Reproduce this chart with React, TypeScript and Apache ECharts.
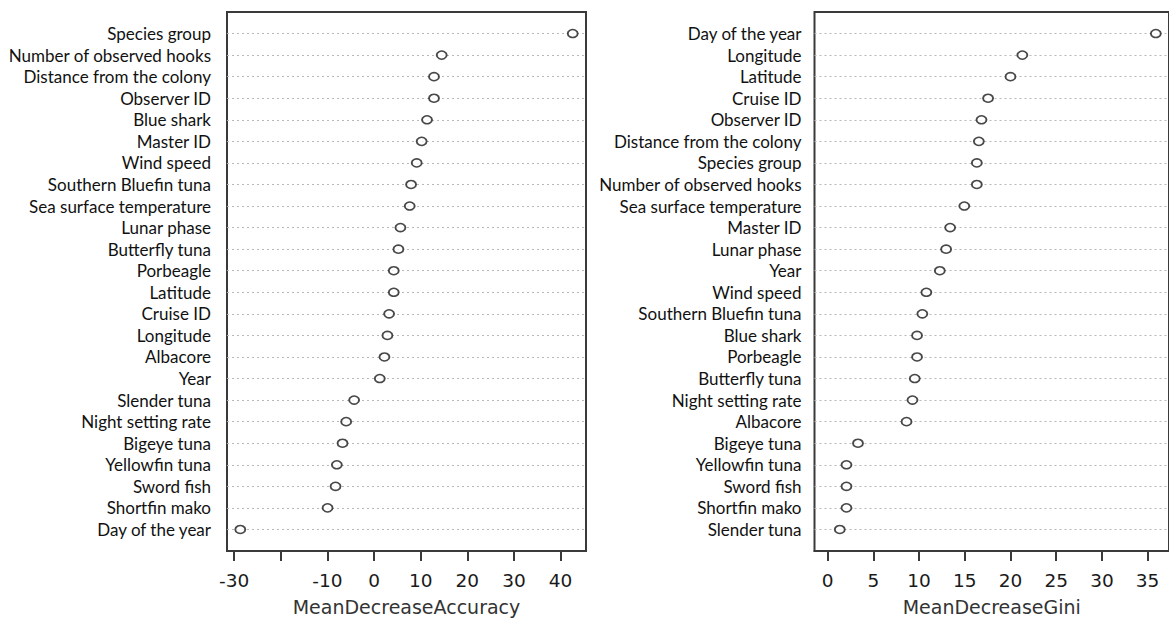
import React, { useEffect, useRef } from "react";
import * as echarts from "echarts";

// Left panel: MeanDecreaseAccuracy (top to bottom)
const accuracyCategories = [
  "Species group",
  "Number of observed hooks",
  "Distance from the colony",
  "Observer ID",
  "Blue shark",
  "Master ID",
  "Wind speed",
  "Southern Bluefin tuna",
  "Sea surface temperature",
  "Lunar phase",
  "Butterfly tuna",
  "Porbeagle",
  "Latitude",
  "Cruise ID",
  "Longitude",
  "Albacore",
  "Year",
  "Slender tuna",
  "Night setting rate",
  "Bigeye tuna",
  "Yellowfin tuna",
  "Sword fish",
  "Shortfin mako",
  "Day of the year",
];
const accuracyValues = [
  42.6, 14.5, 12.85, 12.85, 11.35, 10.2, 9.14, 7.93, 7.64, 5.65, 5.22, 4.22,
  4.22, 3.22, 2.86, 2.22, 1.22, -4.28, -5.99, -6.77, -7.99, -8.27, -9.98, -28.7,
];
const accuracyTickValues = [-30, -20, -10, 0, 10, 20, 30, 40];
const accuracyLabelValues = [-30, -10, 0, 10, 20, 30, 40];

// Right panel: MeanDecreaseGini (top to bottom)
const giniCategories = [
  "Day of the year",
  "Longitude",
  "Latitude",
  "Cruise ID",
  "Observer ID",
  "Distance from the colony",
  "Species group",
  "Number of observed hooks",
  "Sea surface temperature",
  "Master ID",
  "Lunar phase",
  "Year",
  "Wind speed",
  "Southern Bluefin tuna",
  "Blue shark",
  "Porbeagle",
  "Butterfly tuna",
  "Night setting rate",
  "Albacore",
  "Bigeye tuna",
  "Yellowfin tuna",
  "Sword fish",
  "Shortfin mako",
  "Slender tuna",
];
const giniValues = [
  35.9, 21.3, 20.0, 17.55, 16.83, 16.54, 16.32, 16.32, 14.95, 13.4, 12.96,
  12.27, 10.8, 10.36, 9.78, 9.78, 9.53, 9.28, 8.63, 3.32, 2.06, 2.06, 2.06,
  1.33,
];
const giniTickValues = [0, 5, 10, 15, 20, 25, 30, 35];
const giniLabelValues = [0, 5, 10, 15, 20, 25, 30, 35];

const BOX = "#3a3a3a";
const TXT = "#1a1a1a";

function rowData(values: number[]) {
  const n = values.length;
  return values.map((v, i) => [v, n - i]);
}

function yAxisFor(cats: string[], gridIndex: number, margin: number) {
  const n = cats.length;
  return {
    type: "value",
    gridIndex,
    min: 0,
    max: n + 1,
    interval: 1,
    axisLine: { show: false },
    axisTick: { show: false },
    axisLabel: {
      margin,
      fontFamily: "Lato",
      fontSize: 17,
      color: "#111111",
      padding: [0, 0, 2, 0],
      formatter: (v: number) => {
        const idx = n - v;
        return idx >= 0 && idx < n ? cats[idx] : "";
      },
    },
    splitLine: {
      show: true,
      showMinLine: false,
      showMaxLine: false,
      lineStyle: { color: "#b8b8b8", width: 1, type: [2, 3] },
    },
  };
}

function xAxisFor(
  gridIndex: number,
  min: number,
  max: number,
  ticks: number[],
  labels: number[],
  name: string
) {
  return {
    type: "value",
    gridIndex,
    min,
    max,
    position: "bottom",
    name,
    nameLocation: "middle",
    nameGap: 46,
    nameTextStyle: { fontFamily: "DejaVu Sans", fontSize: 19, color: "#333" },
    axisLine: { show: true, onZero: false, lineStyle: { color: BOX, width: 2 } },
    axisTick: {
      show: true,
      customValues: ticks,
      length: 10,
      lineStyle: { color: BOX, width: 2 },
    },
    axisLabel: {
      customValues: labels,
      margin: 20,
      fontFamily: "DejaVu Sans",
      fontSize: 18.5,
      color: TXT,
    },
    splitLine: { show: false },
  };
}

export default function App() {
  const ref = useRef<HTMLDivElement>(null);
  useEffect(() => {
    if (!ref.current) return;
    const chart = echarts.init(ref.current, undefined, { renderer: "svg" });
    const symbolStyle = {
      type: "scatter",
      symbol: "circle",
      symbolSize: [10, 8],
      itemStyle: { color: "#ffffff", borderColor: "#1a1a1a", borderWidth: 1.7 },
      z: 5,
    };
    chart.setOption({
      animation: false,
      backgroundColor: "#ffffff",
      grid: [
        {
          left: 227,
          top: 12,
          width: 359,
          height: 543,
          show: true,
          borderColor: BOX,
          borderWidth: 2,
          backgroundColor: "transparent",
        },
        {
          left: 814.5,
          top: 12,
          width: 359,
          height: 542,
          show: true,
          borderColor: BOX,
          borderWidth: 2,
          backgroundColor: "transparent",
        },
      ],
      xAxis: [
        xAxisFor(0, -31.55, 45.45, accuracyTickValues, accuracyLabelValues, "MeanDecreaseAccuracy"),
        xAxisFor(1, -1.436, 37.34, giniTickValues, giniLabelValues, "MeanDecreaseGini"),
      ],
      yAxis: [yAxisFor(accuracyCategories, 0, 16), yAxisFor(giniCategories, 1, 13)],
      series: [
        { ...symbolStyle, xAxisIndex: 0, yAxisIndex: 0, data: rowData(accuracyValues) },
        { ...symbolStyle, xAxisIndex: 1, yAxisIndex: 1, data: rowData(giniValues) },
      ],
    });
    return () => chart.dispose();
  }, []);
  return (
    <div
      ref={ref}
      style={{
        position: "absolute",
        left: 0,
        top: 0,
        width: 1169,
        height: 621,
        background: "#ffffff",
      }}
    />
  );
}
